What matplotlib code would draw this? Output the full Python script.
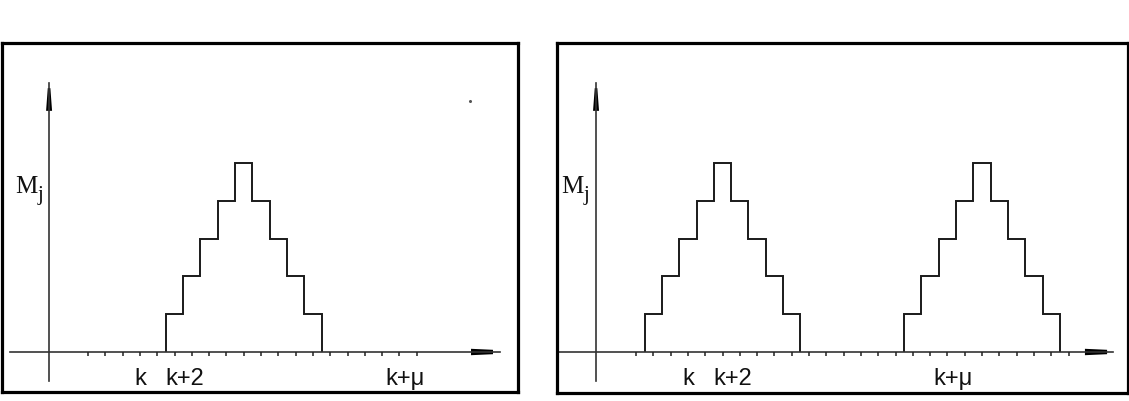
import matplotlib
matplotlib.use('Agg')
import matplotlib.pyplot as plt
import numpy as np

# === Data ===
heights = [1, 2, 3, 4, 5, 4, 3, 2, 1]       # step heights of one bump (M_j)
bump_starts_left = [5]                      # tick index of first bar centre
bump_starts_right = [1, 16]
n_ticks_left = 20
n_ticks_right = 26
label_text = ['k', 'k+2', 'k+\u03bc']
label_pos = [3, 5.6, 18.3]

# === Geometry (pixels -> data units) ===
W, H = 1129, 401
px_x = 17.3   # px per tick
px_y = 37.8   # px per unit height


def draw_panel(ax, starts, n_ticks, xaxis_start, yaxis_x, xaxis_end, arrow_x0, arrow_x1, mj_x):
    # axis lines
    ax.plot([xaxis_start, xaxis_end], [0, 0], color='#333333', lw=1.2)
    ax.plot([yaxis_x, yaxis_x], [-0.77, 7.12], color='#333333', lw=1.2)
    # tick marks
    ticks = np.arange(n_ticks)
    ax.vlines(ticks, -0.1, 0, color='#222222', lw=1.1)
    # x arrow
    hb, ht = 3.2 / px_y, 2.2 / px_y
    ax.fill([arrow_x0, arrow_x1, arrow_x1, arrow_x0], [-hb, -ht, ht, hb], color='black', lw=0)
    # y arrow
    wb, wt = 3.0 / px_x, 1.3 / px_x
    y0, y1 = 6.38, 6.98
    ax.fill([yaxis_x - wb, yaxis_x - wt, yaxis_x + wt, yaxis_x + wb], [y0, y1, y1, y0], color='black', lw=0)
    # bumps
    for s in starts:
        edges = np.arange(len(heights) + 1) + s - 0.5
        ax.stairs(heights, edges, baseline=0, fill=False, color='#1a1a1a', lw=1.4)
    # labels
    for t, p in zip(label_text, label_pos):
        ax.text(p, -0.87, t, ha='center', va='baseline', fontsize=17,
                family='Liberation Sans', color='#111111')
    ax.text(mj_x, 4.2, 'M', ha='left', va='baseline', fontsize=18,
            family='Liberation Serif', color='#111111')
    ax.text(mj_x + 23 / px_x, 4.2 - 7 / px_y, 'j', ha='left', va='baseline', fontsize=15,
            family='Liberation Serif', color='#111111')


fig = plt.figure(figsize=(W / 100, H / 100), dpi=100)

# left panel box: x 2..518, y 43..392 ; right: x 557..1128, y 43..393
axL = fig.add_axes([2 / W, (H - 392) / H, 516 / W, 349 / H])
axR = fig.add_axes([557 / W, (H - 393) / H, 571 / W, 350 / H])

draw_panel(axL, bump_starts_left, n_ticks_left, -4.5, -2.25, 23.8, 22.14, 23.41, -4.22)
draw_panel(axR, bump_starts_right, n_ticks_right, -4.6, -2.31, 27.57, 25.95, 27.23, -4.34)

axL.plot([22.1], [6.64], marker='o', ms=1.2, color='#555555')

axL.set_xlim(-86 / px_x, 430 / px_x)
axL.set_ylim(-40 / px_y, 309 / px_y)
axR.set_xlim(-79 / px_x, 492 / px_x)
axR.set_ylim(-41 / px_y, 309 / px_y)

for ax in (axL, axR):
    ax.set_xticks([])
    ax.set_yticks([])
    for sp in ax.spines.values():
        sp.set_linewidth(2.3)
        sp.set_color('black')

fig.savefig('out.png', dpi=100)
